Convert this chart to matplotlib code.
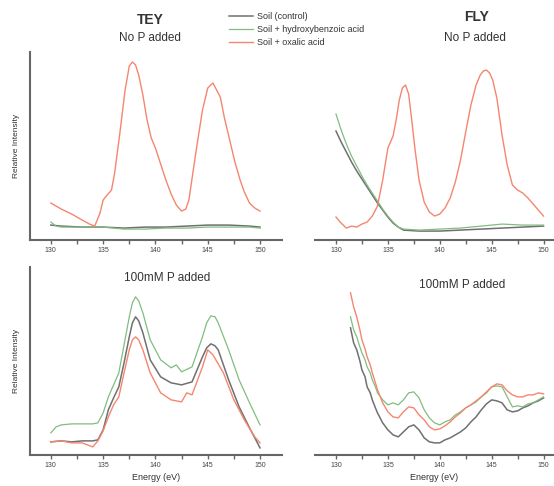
import matplotlib.pyplot as plt
from matplotlib.ticker import MultipleLocator

plt.rcParams['font.family'] = ['Liberation Sans', 'DejaVu Sans']

labels = ['Soil (control)', 'Soil + hydroxybenzoic acid', 'Soil + oxalic acid']
colors = ['#707070', '#80bd80', '#f4866f']
widths = [1.1, 0.9, 1.0]

# TEY, no P added
tey_np_ctrl_x = [130, 131, 133, 135, 137, 139, 141, 143, 145, 147, 149, 150]
tey_np_ctrl_y = [15, 14, 13, 13, 12, 13, 13, 14, 15, 15, 14, 13]
tey_np_hba_x = [130, 130.5, 131, 133, 135, 137, 139, 141, 143, 145, 147, 149, 150]
tey_np_hba_y = [18, 14, 13, 13, 13, 11, 11, 12, 12, 13, 13, 13, 12]
tey_np_ox_x = [130, 131, 132, 133, 133.7, 134.2, 134.7, 135, 135.3, 135.8, 136.1, 136.6,
               137.1, 137.5, 137.8, 138.1, 138.4, 138.8, 139.2, 139.6, 140, 140.5,
               141, 141.5, 142, 142.5, 142.9, 143.2, 143.9, 144.5, 145, 145.5, 146.2,
               146.6, 147.1, 147.6, 148.1, 148.5, 149, 149.5, 150]
tey_np_ox_y = [37, 31, 26, 20, 16, 14, 27, 40, 44, 50, 67, 107,
               150, 174, 178, 175, 165, 145, 120, 102, 92, 76,
               60, 46, 35, 29, 31, 40, 90, 130, 152, 157, 143,
               122, 100, 78, 60, 48, 37, 32, 29]

# FLY, no P added
fly_np_ctrl_x = [130, 130.5, 131, 131.5, 132, 132.5, 133, 133.5, 134, 134.5, 135, 135.5,
                 136, 136.5, 138, 140, 142, 144, 146, 148, 150]
fly_np_ctrl_y = [109, 98, 88, 78, 69, 61, 53, 45, 37, 30, 23, 17,
                 13, 10, 9, 9, 10, 11, 12, 13, 14]
fly_np_hba_x = [130, 130.5, 131, 131.5, 132, 132.5, 133, 133.5, 134, 134.5, 135, 135.5,
                136, 136.5, 138, 140, 142, 144, 146, 148, 150]
fly_np_hba_y = [126, 110, 96, 84, 74, 64, 55, 47, 39, 31, 24, 18,
                13, 11, 10, 11, 12, 14, 16, 15, 15]
fly_np_ox_x = [130, 130.5, 131, 131.5, 132, 132.5, 133, 133.5, 134, 134.5, 135, 135.5,
               135.8, 136.1, 136.4, 136.7, 137, 137.3, 137.6, 138, 138.5, 139, 139.5,
               140, 140.5, 141, 141.5, 142, 142.5, 143, 143.5, 143.9, 144.2, 144.5,
               144.8, 145.1, 145.5, 146, 146.5, 147, 147.5, 148, 148.5, 149, 149.5, 150]
fly_np_ox_y = [23, 17, 12, 14, 13, 16, 18, 24, 34, 60, 92, 104,
               120, 140, 152, 155, 146, 120, 92, 60, 38, 28, 24,
               26, 32, 42, 58, 80, 108, 135, 155, 165, 169, 170,
               167, 160, 142, 105, 75, 55, 50, 47, 42, 36, 30, 24]

# TEY, 100mM P added
tey_p_ctrl_x = [130, 131, 132, 133, 134, 134.5, 135, 135.5, 136, 136.5, 137, 137.5, 137.8,
                138.1, 138.4, 138.8, 139.5, 140.5, 141.5, 142.5, 143.5, 144.5, 144.9,
                145.3, 145.7, 146, 147, 148, 149, 150]
tey_p_ctrl_y = [13, 14, 13, 14, 14, 15, 25, 45, 57, 68, 92, 118, 132,
                138, 134, 122, 95, 78, 72, 70, 73, 98, 107,
                111, 109, 105, 75, 48, 27, 7]
tey_p_hba_x = [130, 130.5, 131, 132, 133, 134, 134.5, 135, 135.5, 136, 136.5, 137, 137.5,
               137.8, 138.1, 138.4, 138.8, 139.5, 140.5, 141.5, 142, 142.5, 143.5, 144.5,
               144.9, 145.3, 145.7, 146, 147, 148, 149, 150]
tey_p_hba_y = [22, 28, 30, 31, 31, 31, 32, 42, 58, 70, 82, 110, 138,
               152, 158, 154, 142, 115, 95, 87, 90, 83, 88, 118,
               132, 139, 138, 132, 105, 75, 52, 30]
tey_p_ox_x = [130, 131, 132, 133, 134, 134.5, 135, 135.5, 136, 136.5, 137, 137.5, 137.8,
              138.1, 138.4, 138.8, 139.5, 140.5, 141.5, 142.5, 143, 143.5, 144.5, 145,
              145.5, 146.5, 147.5, 148.5, 149.5, 150]
tey_p_ox_y = [13, 14, 12, 12, 8, 14, 24, 38, 50, 58, 82, 105, 115,
              118, 115, 105, 82, 62, 55, 53, 62, 60, 88, 105,
              100, 82, 55, 35, 18, 12]

# FLY, 100mM P added
fly_p_ctrl_x = [131.4, 131.7, 132, 132.3, 132.5, 132.8, 133, 133.3, 133.5, 133.8, 134,
                134.5, 135, 135.5, 136, 136.5, 137, 137.5, 138, 138.5, 139, 139.5,
                140, 140.5, 141, 141.5, 142, 142.5, 143, 143.5, 144, 144.5, 145, 145.5,
                146, 146.5, 147, 147.5, 148, 148.5, 149, 149.5, 150]
fly_p_ctrl_y = [127, 112, 105, 94, 85, 78, 68, 62, 55, 47, 42,
                32, 25, 20, 18, 23, 28, 30, 25, 17, 13, 12,
                12, 15, 17, 20, 23, 27, 33, 38, 45, 51, 55, 54,
                52, 45, 43, 44, 47, 49, 52, 54, 57]
fly_p_hba_x = [131.4, 131.7, 132, 132.3, 132.5, 132.8, 133, 133.3, 133.5, 133.8, 134,
               134.5, 135, 135.5, 136, 136.5, 137, 137.5, 138, 138.5, 139, 139.5,
               140, 140.5, 141, 141.5, 142, 142.5, 143, 143.5, 144, 144.5, 145, 145.5,
               146, 146.5, 147, 147.5, 148, 148.5, 149, 149.5, 150]
fly_p_hba_y = [138, 125, 118, 108, 102, 95, 88, 82, 75, 68, 62,
               55, 50, 52, 50, 55, 62, 63, 57, 45, 37, 32,
               30, 33, 35, 40, 43, 47, 50, 53, 58, 62, 68, 69,
               68, 58, 48, 49, 48, 51, 52, 55, 58]
fly_p_ox_x = [131.4, 131.7, 132, 132.3, 132.5, 132.8, 133, 133.3, 133.5, 133.8, 134,
              134.5, 135, 135.5, 136, 136.5, 137, 137.5, 138, 138.5, 139, 139.5,
              140, 140.5, 141, 141.5, 142, 142.5, 143, 143.5, 144, 144.5, 145, 145.5,
              146, 146.5, 147, 147.5, 148, 148.5, 149, 149.5, 150]
fly_p_ox_y = [162, 148, 138, 125, 115, 106, 98, 90, 82, 72, 65,
              52, 43, 38, 37, 43, 48, 47, 40, 35, 28, 25,
              26, 29, 33, 38, 42, 47, 50, 54, 58, 63, 68, 71,
              70, 64, 60, 58, 58, 60, 60, 62, 61]

panels = [
    ([0.054, 0.506, 0.455, 0.387], (128, 152.1), True,
     [(tey_np_ctrl_x, tey_np_ctrl_y), (tey_np_hba_x, tey_np_hba_y), (tey_np_ox_x, tey_np_ox_y)]),
    ([0.569, 0.506, 0.429, 0.387], (128, 150.9), False,
     [(fly_np_ctrl_x, fly_np_ctrl_y), (fly_np_hba_x, fly_np_hba_y), (fly_np_ox_x, fly_np_ox_y)]),
    ([0.054, 0.064, 0.455, 0.387], (128, 152.1), True,
     [(tey_p_ctrl_x, tey_p_ctrl_y), (tey_p_hba_x, tey_p_hba_y), (tey_p_ox_x, tey_p_ox_y)]),
    ([0.569, 0.064, 0.429, 0.387], (128, 150.9), False,
     [(fly_p_ctrl_x, fly_p_ctrl_y), (fly_p_hba_x, fly_p_hba_y), (fly_p_ox_x, fly_p_ox_y)]),
]

fig = plt.figure(figsize=(5.54, 4.86), dpi=100)
axes = []
for rect, xlim, left_spine, series in panels:
    ax = fig.add_axes(rect)
    for (x, y), c, lw, lab in zip(series, colors, widths, labels):
        ax.plot(x, y, color=c, lw=lw, label=lab)
    ax.set_xlim(*xlim)
    ax.set_ylim(0, 188)
    ax.xaxis.set_major_locator(MultipleLocator(5))
    ax.xaxis.set_minor_locator(MultipleLocator(2.5))
    ax.tick_params(axis='x', which='both', direction='out', length=3, width=1,
                   color='#666666', labelsize=5, labelcolor='#444444', pad=2)
    ax.set_yticks([])
    for s in ['top', 'right']:
        ax.spines[s].set_visible(False)
    ax.spines['left'].set_visible(left_spine)
    for s in ['left', 'bottom']:
        ax.spines[s].set_color('#666666')
        ax.spines[s].set_linewidth(1.5)
    if left_spine:
        ax.set_ylabel('Relative Intensity', fontsize=6, color='#333333', labelpad=7)
    axes.append(ax)

axes[2].set_xlabel('Energy (eV)', fontsize=6.5, color='#333333', labelpad=3)
axes[3].set_xlabel('Energy (eV)', fontsize=6.5, color='#333333', labelpad=3)

fig.text(150 / 554, 1 - 20 / 486, 'TEY', ha='center', va='center', fontsize=10, fontweight='bold', color='#333333')
fig.text(150 / 554, 1 - 38 / 486, 'No P added', ha='center', va='center', fontsize=8.5, color='#333333')
fig.text(477 / 554, 1 - 17 / 486, 'FLY', ha='center', va='center', fontsize=10, fontweight='bold', color='#333333')
fig.text(475 / 554, 1 - 38 / 486, 'No P added', ha='center', va='center', fontsize=8.5, color='#333333')
fig.text(167 / 554, 1 - 278 / 486, '100mM P added', ha='center', va='center', fontsize=8.5, color='#333333')
fig.text(462 / 554, 1 - 285 / 486, '100mM P added', ha='center', va='center', fontsize=8.5, color='#333333')

handles, labs = axes[0].get_legend_handles_labels()
leg = fig.legend(handles, labs, loc='upper left', bbox_to_anchor=(229 / 554, 1 - 12 / 486),
                 frameon=False, fontsize=6.5, handlelength=2.7, handletextpad=0.4,
                 labelspacing=0.45, borderpad=0, borderaxespad=0)
for t in leg.get_texts():
    t.set_color('#333333')

fig.savefig('out.png', dpi=100)
